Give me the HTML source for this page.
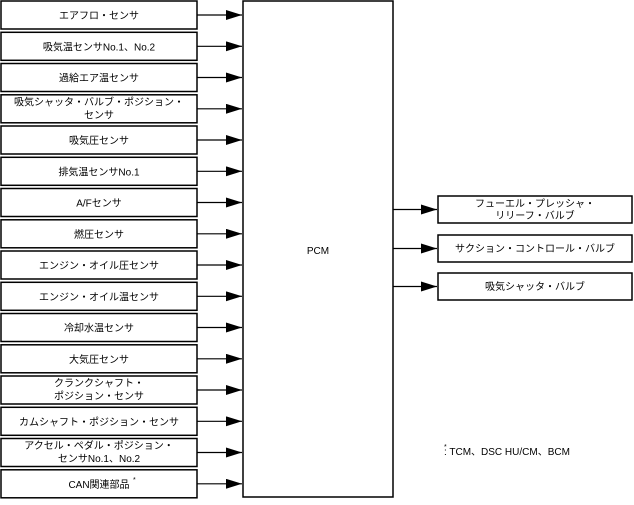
<!DOCTYPE html>
<html><head><meta charset="utf-8"><style>
body{margin:0;background:#fff;}
svg text{font-family:"Liberation Sans","Noto Sans CJK JP",sans-serif;font-size:10px;fill:#000;}
</style></head><body>
<svg width="634" height="500" viewBox="0 0 634 500" xmlns="http://www.w3.org/2000/svg">
<defs><marker id="a" markerWidth="16" markerHeight="10" refX="16" refY="5" orient="auto" markerUnits="userSpaceOnUse"><path d="M0,0 L16,5 L0,10 Z" fill="#000"/></marker></defs>
<g fill="#fff" stroke="#000" stroke-width="1.5">
<rect x="1" y="1" width="196" height="28"/>
<rect x="1" y="32.3" width="196" height="28"/>
<rect x="1" y="63.5" width="196" height="28"/>
<rect x="1" y="94.8" width="196" height="28"/>
<rect x="1" y="126" width="196" height="28"/>
<rect x="1" y="157.3" width="196" height="28"/>
<rect x="1" y="188.5" width="196" height="28"/>
<rect x="1" y="219.8" width="196" height="28"/>
<rect x="1" y="251" width="196" height="28"/>
<rect x="1" y="282.3" width="196" height="28"/>
<rect x="1" y="313.5" width="196" height="28"/>
<rect x="1" y="344.8" width="196" height="28"/>
<rect x="1" y="376" width="196" height="28"/>
<rect x="1" y="407.3" width="196" height="28"/>
<rect x="1" y="438.5" width="196" height="28"/>
<rect x="1" y="469.8" width="196" height="28"/>
<rect x="243" y="1" width="150" height="496"/>
<rect x="438" y="196" width="194" height="27"/>
<rect x="438" y="235" width="194" height="27"/>
<rect x="438" y="273" width="194" height="27"/>
</g>
<g stroke="#000" stroke-width="1.2" marker-end="url(#a)">
<line x1="197" y1="15" x2="242" y2="15"/>
<line x1="197" y1="46.3" x2="242" y2="46.3"/>
<line x1="197" y1="77.5" x2="242" y2="77.5"/>
<line x1="197" y1="108.8" x2="242" y2="108.8"/>
<line x1="197" y1="140" x2="242" y2="140"/>
<line x1="197" y1="171.3" x2="242" y2="171.3"/>
<line x1="197" y1="202.5" x2="242" y2="202.5"/>
<line x1="197" y1="233.8" x2="242" y2="233.8"/>
<line x1="197" y1="265" x2="242" y2="265"/>
<line x1="197" y1="296.3" x2="242" y2="296.3"/>
<line x1="197" y1="327.5" x2="242" y2="327.5"/>
<line x1="197" y1="358.8" x2="242" y2="358.8"/>
<line x1="197" y1="390" x2="242" y2="390"/>
<line x1="197" y1="421.3" x2="242" y2="421.3"/>
<line x1="197" y1="452.5" x2="242" y2="452.5"/>
<line x1="197" y1="483.8" x2="242" y2="483.8"/>
<line x1="393" y1="209.5" x2="437" y2="209.5"/>
<line x1="393" y1="248.5" x2="437" y2="248.5"/>
<line x1="393" y1="286.5" x2="437" y2="286.5"/>
</g>
<g text-anchor="middle">
<text x="99" y="19">エアフロ・センサ</text>
<text x="99" y="50.3">吸気温センサNo.1、No.2</text>
<text x="99" y="81.5">過給エア温センサ</text>
<text x="99" y="105.5">吸気シャッタ・バルブ・ポジション・</text>
<text x="99" y="118.5">センサ</text>
<text x="99" y="144">吸気圧センサ</text>
<text x="99" y="175.3">排気温センサNo.1</text>
<text x="99" y="206.5">A/Fセンサ</text>
<text x="99" y="237.8">燃圧センサ</text>
<text x="99" y="269">エンジン・オイル圧センサ</text>
<text x="99" y="300.3">エンジン・オイル温センサ</text>
<text x="99" y="331.5">冷却水温センサ</text>
<text x="99" y="362.8">大気圧センサ</text>
<text x="99" y="386.5">クランクシャフト・</text>
<text x="99" y="399.5">ポジション・センサ</text>
<text x="99" y="425.3">カムシャフト・ポジション・センサ</text>
<text x="99" y="449">アクセル・ペダル・ポジション・</text>
<text x="99" y="462">センサNo.1、No.2</text>
<text x="99" y="487.8">CAN関連部品</text>
<text x="318" y="254">PCM</text>
<text x="535" y="207">フューエル・プレッシャ・</text>
<text x="535" y="219">リリーフ・バルブ</text>
<text x="535" y="252">サクション・コントロール・バルブ</text>
<text x="535" y="290">吸気シャッタ・バルブ</text>
</g>
<text x="133" y="482" style="font-size:7px">*</text>
<text x="444" y="455">: TCM、DSC HU/CM、BCM</text>
<text x="444" y="449" style="font-size:7px">*</text>
</svg>
</body></html>
